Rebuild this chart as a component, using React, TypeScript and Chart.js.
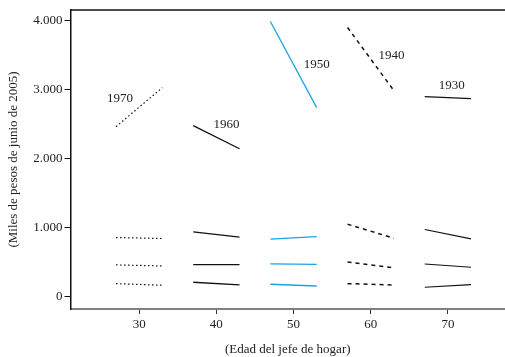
import React, { useEffect, useRef } from "react";
import { Chart, registerables } from "chart.js";

Chart.register(...registerables);

const cohorts = ["1970", "1960", "1950", "1940", "1930"];
const ageStart = [27, 37, 47, 57, 67];
const ageEnd = [33, 43, 53, 63, 73];
const totalStart = [2464, 2478, 3986, 3899, 2899];
const totalEnd = [3029, 2145, 2739, 2986, 2870];
const s1Start = [860, 942, 836, 1053, 975];
const s1End = [846, 865, 874, 850, 841];
const s2Start = [464, 468, 478, 507, 478];
const s2End = [449, 468, 471, 420, 430];
const s3Start = [193, 213, 184, 193, 140];
const s3End = [170, 174, 159, 174, 178];
const labelAge = [27.5, 41.3, 53.0, 62.7, 70.5];
const labelValue = [2870, 2493, 3362, 3493, 3058];
const xTicks = [30, 40, 50, 60, 70];
const yTicks = [0, 1000, 2000, 3000, 4000];

const FONT = "'Liberation Serif', 'Times New Roman', serif";

const styles = [
  { color: "#111", dash: [1.5, 2.5], width: 1.2 },
  { color: "#111", dash: [], width: 1.3 },
  { color: "#1aa3e3", dash: [], width: 1.3 },
  { color: "#111", dash: [4, 4], width: 1.5 },
  { color: "#111", dash: [], width: 1.1 },
];

export default function App() {
  const ref = useRef<HTMLCanvasElement>(null);
  useEffect(() => {
    const datasets: any[] = [];
    const series = [
      [totalStart, totalEnd],
      [s1Start, s1End],
      [s2Start, s2End],
      [s3Start, s3End],
    ];
    cohorts.forEach((c, i) => {
      series.forEach(([a, b]) => {
        datasets.push({
          label: c,
          data: [
            { x: ageStart[i], y: a[i] },
            { x: ageEnd[i], y: b[i] },
          ],
          showLine: true,
          borderColor: styles[i].color,
          borderDash: styles[i].dash,
          borderWidth: styles[i].width,
          pointRadius: 0,
          fill: false,
        });
      });
    });

    const labelsPlugin = {
      id: "cohortLabels",
      afterDatasetsDraw(chart: any) {
        const ctx = chart.ctx;
        const xs = chart.scales.x;
        const ys = chart.scales.y;
        ctx.save();
        ctx.font = `13px ${FONT}`;
        ctx.fillStyle = "#222";
        ctx.textAlign = "center";
        ctx.textBaseline = "middle";
        cohorts.forEach((c, i) => {
          ctx.fillText(c, xs.getPixelForValue(labelAge[i]), ys.getPixelForValue(labelValue[i]));
        });
        ctx.restore();
      },
      afterDraw(chart: any) {
        const ctx = chart.ctx;
        const a = chart.chartArea;
        ctx.save();
        ctx.strokeStyle = "#111";
        ctx.lineWidth = 1.5;
        ctx.beginPath();
        ctx.moveTo(a.left, a.top);
        ctx.lineTo(a.right, a.top);
        ctx.stroke();
        ctx.restore();
      },
    };

    const chart = new Chart(ref.current!, {
      type: "scatter",
      data: { datasets },
      plugins: [labelsPlugin],
      options: {
        responsive: false,
        animation: false,
        layout: { padding: { top: 10, right: 0, left: 0, bottom: 0 } },
        plugins: { legend: { display: false }, tooltip: { enabled: false } },
        scales: {
          x: {
            type: "linear",
            min: 21.1,
            max: 77.4,
            afterBuildTicks: (s: any) => {
              s.ticks = xTicks.map((v) => ({ value: v }));
            },
            afterFit: (s: any) => {
              s.height = 48;
            },
            grid: { drawOnChartArea: false, drawTicks: true, tickLength: 5, color: "#333" },
            border: { display: true, color: "#808080", width: 2 },
            ticks: {
              font: { family: FONT, size: 13 },
              color: "#222",
              padding: 3,
              maxRotation: 0,
              callback: (v: any) => String(v),
            },
            title: {
              display: true,
              text: "(Edad del jefe de hogar)",
              font: { family: FONT, size: 13 },
              color: "#222",
              padding: { top: 0, bottom: 0 },
            },
          },
          y: {
            type: "linear",
            min: -174,
            max: 4152,
            afterBuildTicks: (s: any) => {
              s.ticks = yTicks.map((v) => ({ value: v }));
            },
            afterFit: (s: any) => {
              s.width = 70.5;
            },
            grid: { drawOnChartArea: false, drawTicks: true, tickLength: 6, color: "#111" },
            border: { display: true, color: "#111", width: 1.5 },
            ticks: {
              font: { family: FONT, size: 13 },
              color: "#222",
              padding: 2,
              callback: (v: any) => Number(v).toLocaleString("en-US").replace(/,/g, "."),
            },
            title: {
              display: true,
              text: "(Miles de pesos de junio de 2005)",
              font: { family: FONT, size: 13 },
              color: "#222",
              padding: { top: 6, bottom: 0 },
            },
          },
        },
      },
    });
    return () => chart.destroy();
  }, []);
  return (
    <div style={{ position: "fixed", left: 0, top: 0, width: 505, height: 357, background: "#fff" }}>
      <canvas ref={ref} width={505} height={357} style={{ display: "block" }} />
    </div>
  );
}
